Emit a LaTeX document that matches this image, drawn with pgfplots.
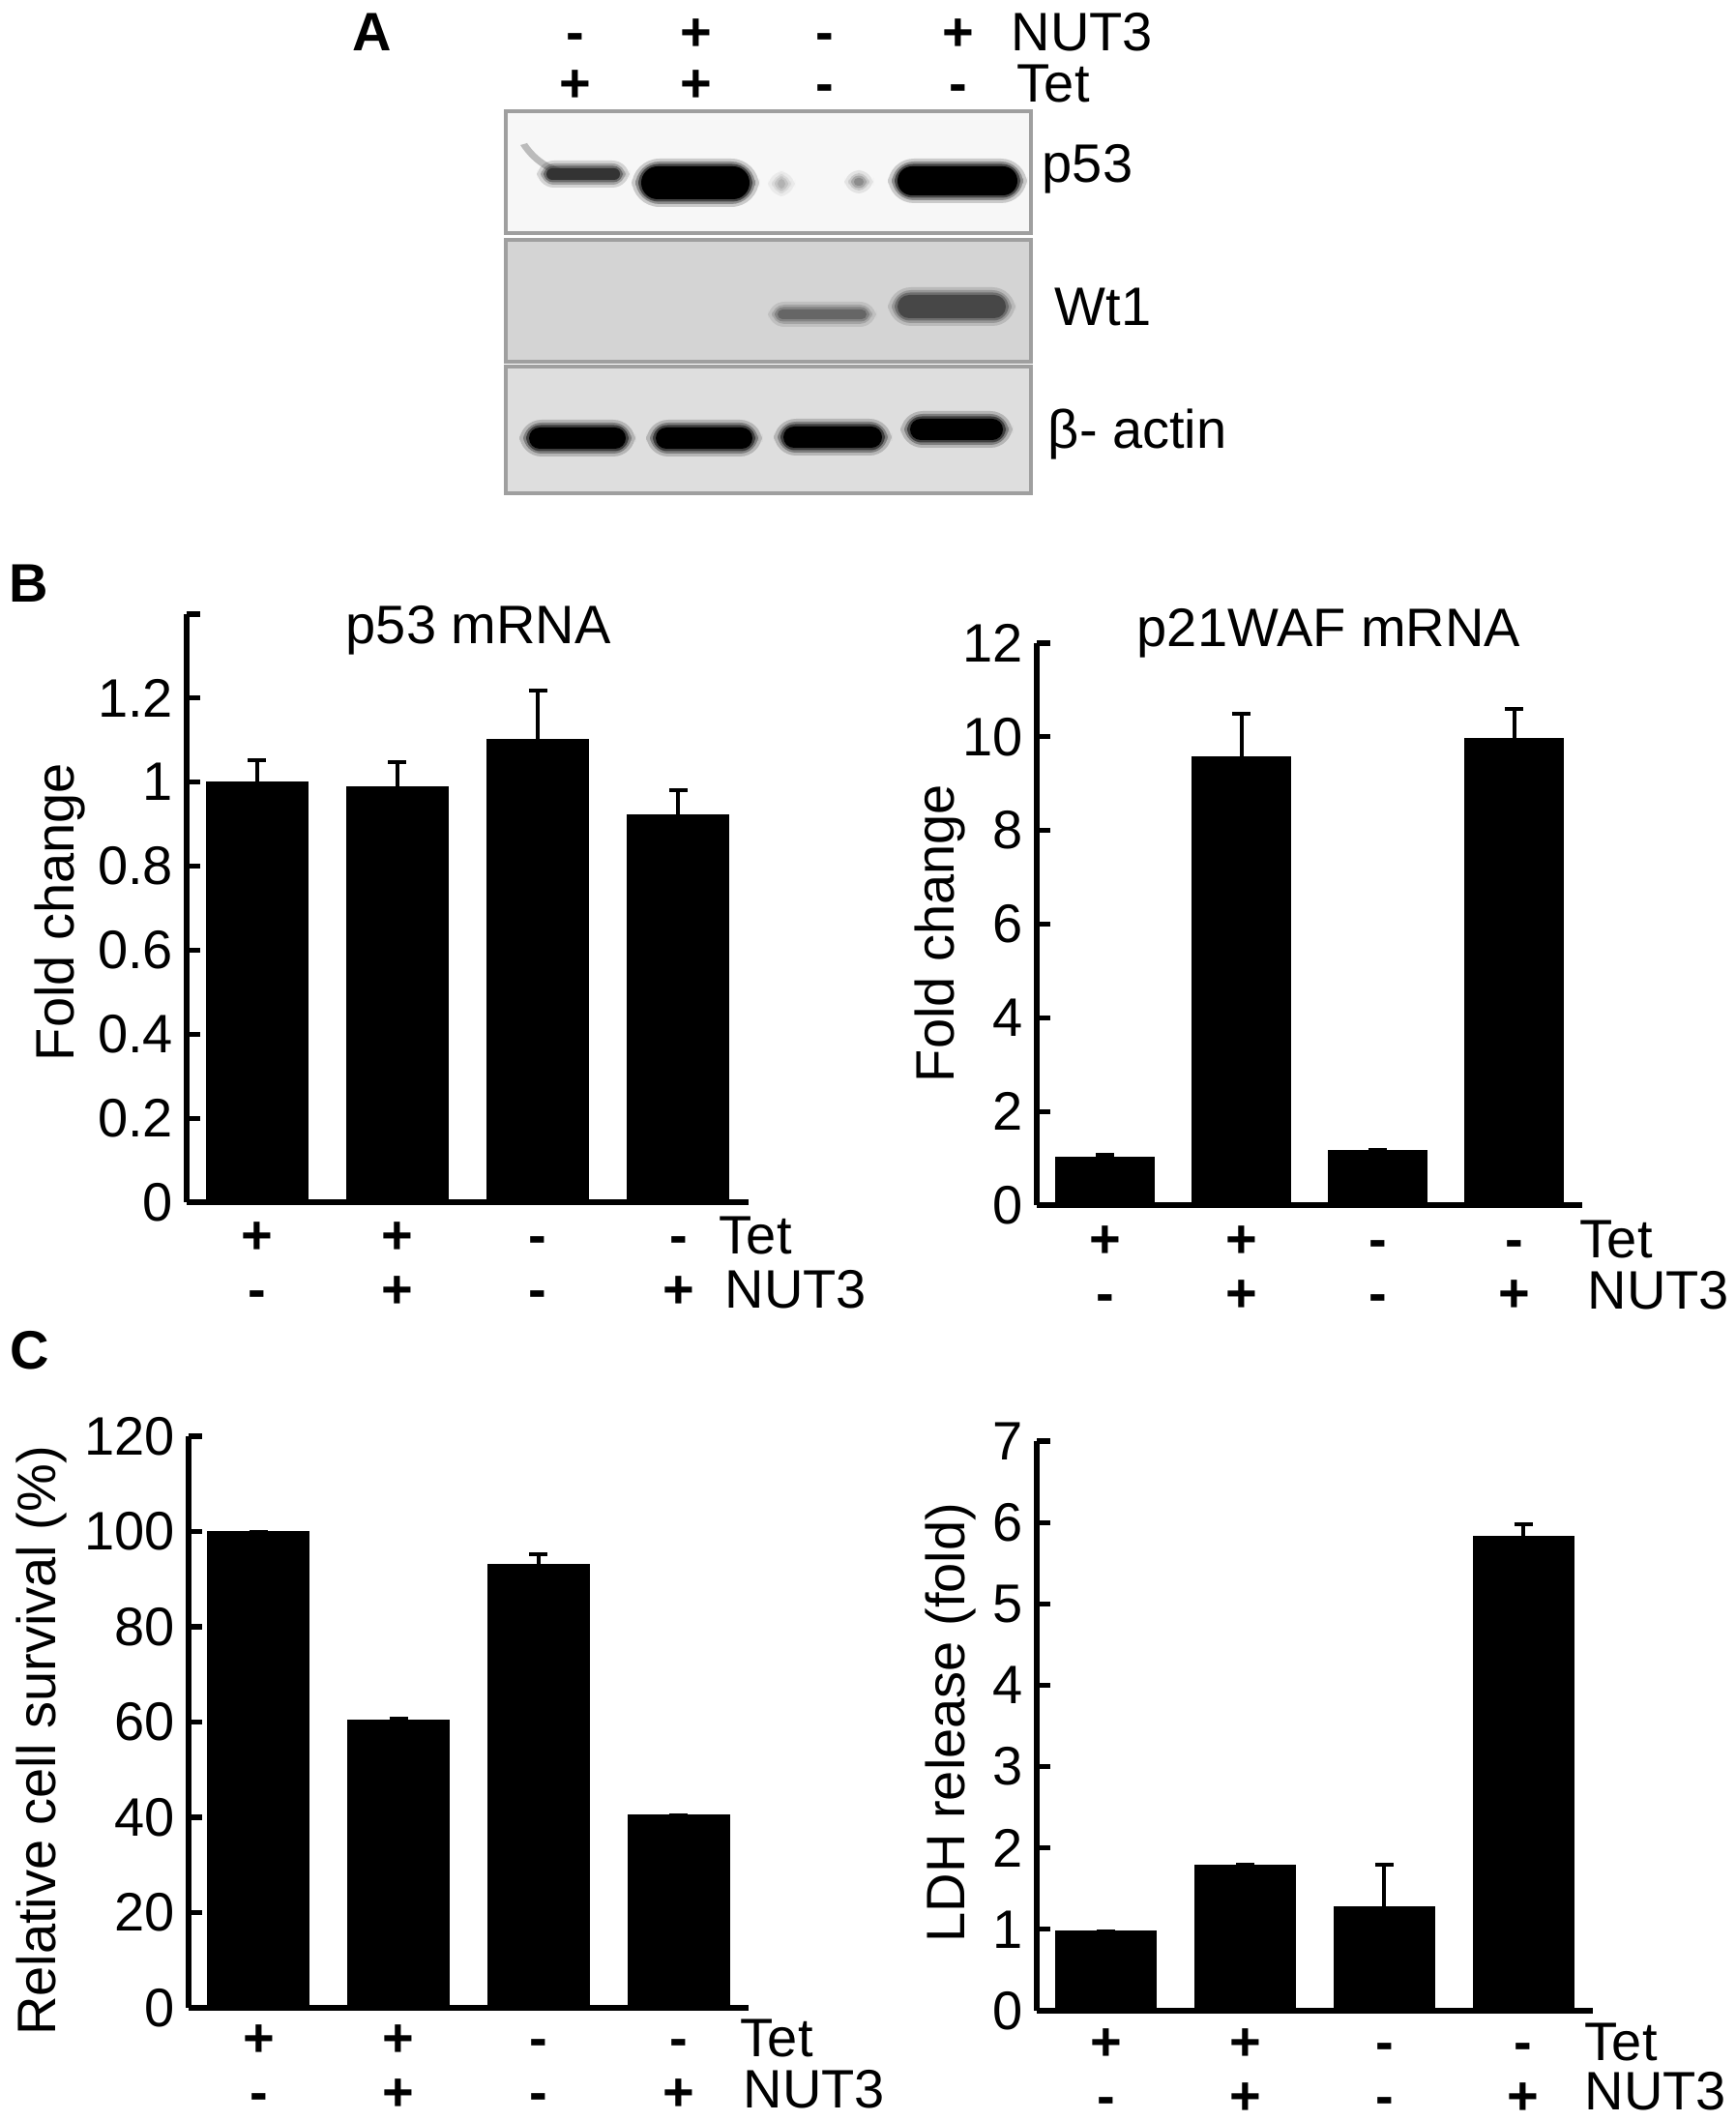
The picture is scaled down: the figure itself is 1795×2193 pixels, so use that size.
\documentclass[border=0pt]{standalone}
\usepackage{fontspec}
\setmainfont{Liberation Sans}
\usepackage{pgfplots}
\pgfplotsset{compat=1.18}
\newcommand\fs{\fontsize{14}{14}\selectfont}
\definecolor{bgA}{gray}{0.97}
\definecolor{bgB}{gray}{0.83}
\definecolor{bgC}{gray}{0.87}
\pgfplotsset{
  mybar/.style={
    scale only axis, anchor=south west, clip=false,
    axis lines=left, axis line style={-, line width=1.3pt, black},
    ymin=0, xmin=-0.5, xmax=3.5,
    ybar, bar width=0.72,
    tick align=inside, major tick length=3.5pt,
    y tick style={line width=1.3pt, black},
    xtick={0,1,2,3}, x tick style={draw=none},
    xticklabels={+,+,-,-},
    xticklabel style={anchor=base, font=\fs\bfseries, inner sep=0pt},
    yticklabel style={font=\fs},
    /pgf/number format/assume math mode=true,
    extra x ticks={0,1,2,3}, extra x tick labels={-,+,-,+},
    extra x tick style={grid=none, xticklabel style={yshift=-14pt}},
  },
  mybars/.style={fill=black, draw=black, line width=0.4pt,
    error bars/.cd, y dir=plus, y explicit,
    error bar style={line width=1pt, black},
    error mark options={rotate=90, line width=1pt, mark size=2.4pt, black}},
}
% soft band: centre x, centre y, half width, half height, colour
\newcommand{\band}[5]{%
  \fill[#5, opacity=0.18, rounded corners={#4*0.25pt+3pt}] ({#1-#3-10},{#2-#4-8}) rectangle ({#1+#3+10},{#2+#4+8});
  \fill[#5, opacity=0.3, rounded corners={#4*0.25pt+2pt}] ({#1-#3-6},{#2-#4-5}) rectangle ({#1+#3+6},{#2+#4+5});
  \fill[#5, opacity=0.5, rounded corners={#4*0.25pt+1pt}] ({#1-#3-3},{#2-#4-2.5}) rectangle ({#1+#3+3},{#2+#4+2.5});
  \fill[#5, rounded corners={#4*0.25pt}] ({#1-#3},{#2-#4}) rectangle ({#1+#3},{#2+#4});}
\begin{document}
\begin{tikzpicture}
\begin{scope}[x=0.25pt, y=-0.25pt]
\useasboundingbox (0,0) rectangle (1795,2193);
% ---------- panel A : blot ----------
\node[anchor=base west, font=\fs\bfseries, inner sep=0pt] at (364,53) {A};
\foreach \xx/\s in {595/-,720/+,853/-,990.5/+} \node[anchor=base, font=\fs\bfseries, inner sep=0pt] at (\xx,53) {\s};
\foreach \xx/\s in {595/+,720/+,853/-,990.5/-} \node[anchor=base, font=\fs\bfseries, inner sep=0pt] at (\xx,106) {\s};
\node[anchor=base west, font=\fs, inner sep=0pt] at (1045,53) {NUT3};
\node[anchor=base west, font=\fs, inner sep=0pt] at (1051,106) {Tet};
\filldraw[fill=bgA, draw=gray!75, line width=1pt] (522.5,115) rectangle (1066,241);
\filldraw[fill=bgB, draw=gray!75, line width=1pt] (522.5,248) rectangle (1066,374);
\filldraw[fill=bgC, draw=gray!75, line width=1pt] (522.5,379) rectangle (1066,510);
\begin{scope}
\clip (522.5,115) rectangle (1066,241);
\fill[black!55, opacity=0.45] (545,148) .. controls (560,170) and (580,176) .. (600,178) -- (600,186) .. controls (575,184) and (552,172) .. (538,150) -- cycle;
\band{603}{180}{38}{6}{black!80}
\band{719}{189}{56}{17}{black}
\band{808}{190}{4}{5}{black!30}
\band{888}{188}{5}{4}{black!45}
\band{990}{187}{62}{15}{black}
\end{scope}
\band{850}{325}{46}{5}{black!60}
\band{984}{317}{56}{12}{black!72}
\band{597}{453}{50}{11}{black}
\band{728}{453}{50}{11}{black}
\band{861}{452}{51}{11}{black}
\band{989}{444}{48}{11}{black}
\node[anchor=base west, font=\fs, inner sep=0pt] at (1077,189) {p53};
\node[anchor=base west, font=\fs, inner sep=0pt] at (1090,337) {Wt1};
\node[anchor=base west, font=\fs, inner sep=0pt] at (1083,464) {β- actin};
% ---------- panel labels ----------
\node[anchor=base west, font=\fs\bfseries, inner sep=0pt] at (9,622) {B};
\node[anchor=base west, font=\fs\bfseries, inner sep=0pt] at (10,1415) {C};
% titles
\node[anchor=base west, font=\fs, inner sep=0pt] at (357,665) {p53 mRNA};
\node[anchor=base west, font=\fs, inner sep=0pt] at (1175,668) {p21WAF mRNA};
% y labels
\node[anchor=base, rotate=90, font=\fs, inner sep=0pt] at (76,943) {Fold change};
\node[anchor=base, rotate=90, font=\fs, inner sep=0pt] at (986,965) {Fold change};
\node[anchor=base, rotate=90, font=\fs, inner sep=0pt] at (57.5,1800) {Relative cell survival (\%)};
\node[anchor=base, rotate=90, font=\fs, inner sep=0pt] at (997,1781) {LDH release (fold)};
% Tet / NUT3 row names
\node[anchor=base west, font=\fs, inner sep=0pt] at (743,1296) {Tet};
\node[anchor=base west, font=\fs, inner sep=0pt] at (749,1352) {NUT3};
\node[anchor=base west, font=\fs, inner sep=0pt] at (1633,1300) {Tet};
\node[anchor=base west, font=\fs, inner sep=0pt] at (1641,1353) {NUT3};
\node[anchor=base west, font=\fs, inner sep=0pt] at (765,2126) {Tet};
\node[anchor=base west, font=\fs, inner sep=0pt] at (768,2179) {NUT3};
\node[anchor=base west, font=\fs, inner sep=0pt] at (1638,2130) {Tet};
\node[anchor=base west, font=\fs, inner sep=0pt] at (1638,2181) {NUT3};
\end{scope}
% ---------- B left: p53 mRNA ----------
\begin{axis}[mybar, at={(48.25pt,-310.75pt)}, width=145.25pt, height=152pt,
  ymax=1.4, ytick={0,0.2,0.4,0.6,0.8,1,1.2,1.4},
  yticklabels={0,0.2,0.4,0.6,0.8,1,1.2,{}},
  xticklabel style={yshift=-13.25pt}]
\addplot[mybars] table[x=x, y=y, y error=e, row sep=\\] {x y e\\ 0 1.000 0.053\\ 1 0.989 0.058\\ 2 1.101 0.116\\ 3 0.922 0.059\\};
\end{axis}
% ---------- B right: p21WAF mRNA ----------
\begin{axis}[mybar, at={(268pt,-311.5pt)}, width=141pt, height=145.25pt,
  ymax=12, ytick={0,2,4,6,8,10,12},
  xticklabel style={yshift=-13.5pt}]
\addplot[mybars] table[x=x, y=y, y error=e, row sep=\\] {x y e\\ 0 1.01 0.06\\ 1 9.56 0.93\\ 2 1.17 0\\ 3 9.95 0.65\\};
\end{axis}
% ---------- C left: cell survival ----------
\begin{axis}[mybar, at={(48.75pt,-519pt)}, width=144.75pt, height=147.75pt,
  ymax=120, ytick={0,20,40,60,80,100,120},
  xticklabel style={yshift=-12.5pt}]
\addplot[mybars] table[x=x, y=y, y error=e, row sep=\\] {x y e\\ 0 100 0\\ 1 60.4 0.4\\ 2 93.1 2.1\\ 3 40.5 0\\};
\end{axis}
% ---------- C right: LDH release ----------
\begin{axis}[mybar, at={(268pt,-519.75pt)}, width=143.75pt, height=147.25pt,
  ymax=7, ytick={0,1,2,3,4,5,6,7},
  xticklabel style={yshift=-12.75pt}]
\addplot[mybars] table[x=x, y=y, y error=e, row sep=\\] {x y e\\ 0 0.98 0\\ 1 1.78 0.02\\ 2 1.28 0.52\\ 3 5.83 0.15\\};
\end{axis}
\end{tikzpicture}
\end{document}
